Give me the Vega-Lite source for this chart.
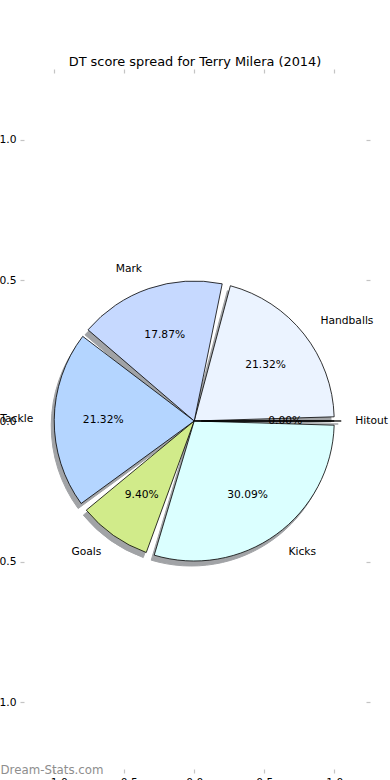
{
  "$schema": "https://vega.github.io/schema/vega-lite/v6.json",
  "width": 342,
  "height": 696,
  "autosize": {"type": "none"},
  "padding": {"left": 24, "top": 73, "right": 24, "bottom": 11},
  "background": "#ffffff",
  "title": {
    "text": "DT score spread for Terry Milera (2014)",
    "font": "DejaVu Sans",
    "fontSize": 12.9,
    "fontWeight": "normal",
    "color": "#000000",
    "baseline": "bottom",
    "offset": -13
  },
  "config": {
    "view": {"stroke": null},
    "font": "DejaVu Sans",
    "axis": {
      "domain": false,
      "grid": false,
      "tickColor": "#c4c4c4",
      "tickSize": 4,
      "tickWidth": 1.2,
      "labelFont": "DejaVu Sans",
      "labelFontSize": 10.7,
      "labelColor": "#000000",
      "labelPadding": 4
    }
  },
  "data": {
    "values": [
      {"i": 0, "label": "Handballs", "share": 0.2132},
      {"i": 1, "label": "Mark", "share": 0.1787},
      {"i": 2, "label": "Tackle", "share": 0.2132},
      {"i": 3, "label": "Goals", "share": 0.0940},
      {"i": 4, "label": "Kicks", "share": 0.3009},
      {"i": 5, "label": "Hitout", "share": 0}
    ]
  },
  "encoding": {
    "theta": {
      "field": "share",
      "type": "quantitative",
      "stack": true,
      "scale": {"range": [1.5708, -4.7124]}
    },
    "order": {"field": "i", "type": "quantitative"}
  },
  "layer": [
    {
      "mark": {
        "type": "arc",
        "radius": 140,
        "padAngle": 0.06,
        "xOffset": -3,
        "yOffset": 5,
        "color": "#a1a3a6",
        "stroke": "#a1a3a6",
        "strokeWidth": 1
      },
      "encoding": {
        "x": {
          "datum": 0,
          "type": "quantitative",
          "scale": {"domain": [-1.216, 1.227], "nice": false, "zero": false},
          "axis": {"orient": "top", "labels": false, "values": [-1, -0.5, 0, 0.5, 1], "title": null}
        },
        "y": {
          "datum": 0,
          "type": "quantitative",
          "scale": {"domain": [-1.238, 1.238], "nice": false, "zero": false},
          "axis": {"orient": "right", "labels": false, "values": [-1, -0.5, 0, 0.5, 1], "title": null}
        }
      }
    },
    {
      "mark": {
        "type": "arc",
        "radius": 140,
        "xOffset": 4,
        "yOffset": 3,
        "fillOpacity": 0,
        "stroke": "#a1a3a6",
        "strokeWidth": 1
      },
      "encoding": {
        "strokeOpacity": {"condition": {"test": "datum.share == 0", "value": 1}, "value": 0},
        "x": {"datum": 0, "type": "quantitative", "axis": null},
        "y": {"datum": 0, "type": "quantitative", "axis": null}
      }
    },
    {
      "mark": {
        "type": "arc",
        "radius": 140,
        "padAngle": 0.06,
        "stroke": "#000000",
        "strokeWidth": 0.8
      },
      "encoding": {
        "color": {
          "field": "label",
          "type": "nominal",
          "scale": {
            "domain": ["Handballs", "Mark", "Tackle", "Goals", "Kicks", "Hitout"],
            "range": ["#ebf3ff", "#c6d9ff", "#b4d5ff", "#d1eb8a", "#dbffff", "#c0c0c0"]
          },
          "legend": null
        },
        "x": {
          "datum": 0,
          "type": "quantitative",
          "axis": {
            "orient": "bottom",
            "values": [-1, -0.5, 0, 0.5, 1],
            "labelExpr": "replace(format(datum.value, '.1f'), '-', '\u2212')",
            "title": "Dream-Stats.com",
            "titleFont": "DejaVu Sans",
            "titleFontSize": 11.8,
            "titleFontWeight": "normal",
            "titleColor": "#8e8e8e",
            "titleAlign": "left",
            "titleBaseline": "alphabetic",
            "titleX": -24,
            "titleY": 4
          }
        },
        "y": {
          "datum": 0,
          "type": "quantitative",
          "axis": {
            "orient": "left",
            "values": [-1, -0.5, 0, 0.5, 1],
            "labelExpr": "replace(format(datum.value, '.1f'), '-', '\u2212')",
            "title": null
          }
        }
      }
    },
    {
      "mark": {
        "type": "arc",
        "radius": 140,
        "xOffset": 7,
        "fillOpacity": 0,
        "stroke": "#000000",
        "strokeWidth": 0.8
      },
      "encoding": {
        "strokeOpacity": {"condition": {"test": "datum.share == 0", "value": 1}, "value": 0},
        "x": {"datum": 0, "type": "quantitative", "axis": null},
        "y": {"datum": 0, "type": "quantitative", "axis": null}
      }
    },
    {
      "mark": {
        "type": "text",
        "radius": 161,
        "fontSize": 10.7,
        "font": "DejaVu Sans",
        "color": "#000000",
        "baseline": "middle",
        "align": {"expr": "(datum.label == 'Mark' || datum.label == 'Tackle' || datum.label == 'Goals') ? 'right' : 'left'"}
      },
      "encoding": {
        "text": {"field": "label", "type": "nominal"},
        "x": {"datum": 0, "type": "quantitative", "axis": null},
        "y": {"datum": 0, "type": "quantitative", "axis": null}
      }
    },
    {
      "mark": {
        "type": "text",
        "radius": 91,
        "fontSize": 10.7,
        "font": "DejaVu Sans",
        "color": "#000000",
        "baseline": "middle",
        "align": "center"
      },
      "encoding": {
        "text": {"field": "share", "type": "quantitative", "format": ".2%"},
        "x": {"datum": 0, "type": "quantitative", "axis": null},
        "y": {"datum": 0, "type": "quantitative", "axis": null}
      }
    }
  ],
  "resolve": {"axis": {"x": "independent", "y": "independent"}}
}
